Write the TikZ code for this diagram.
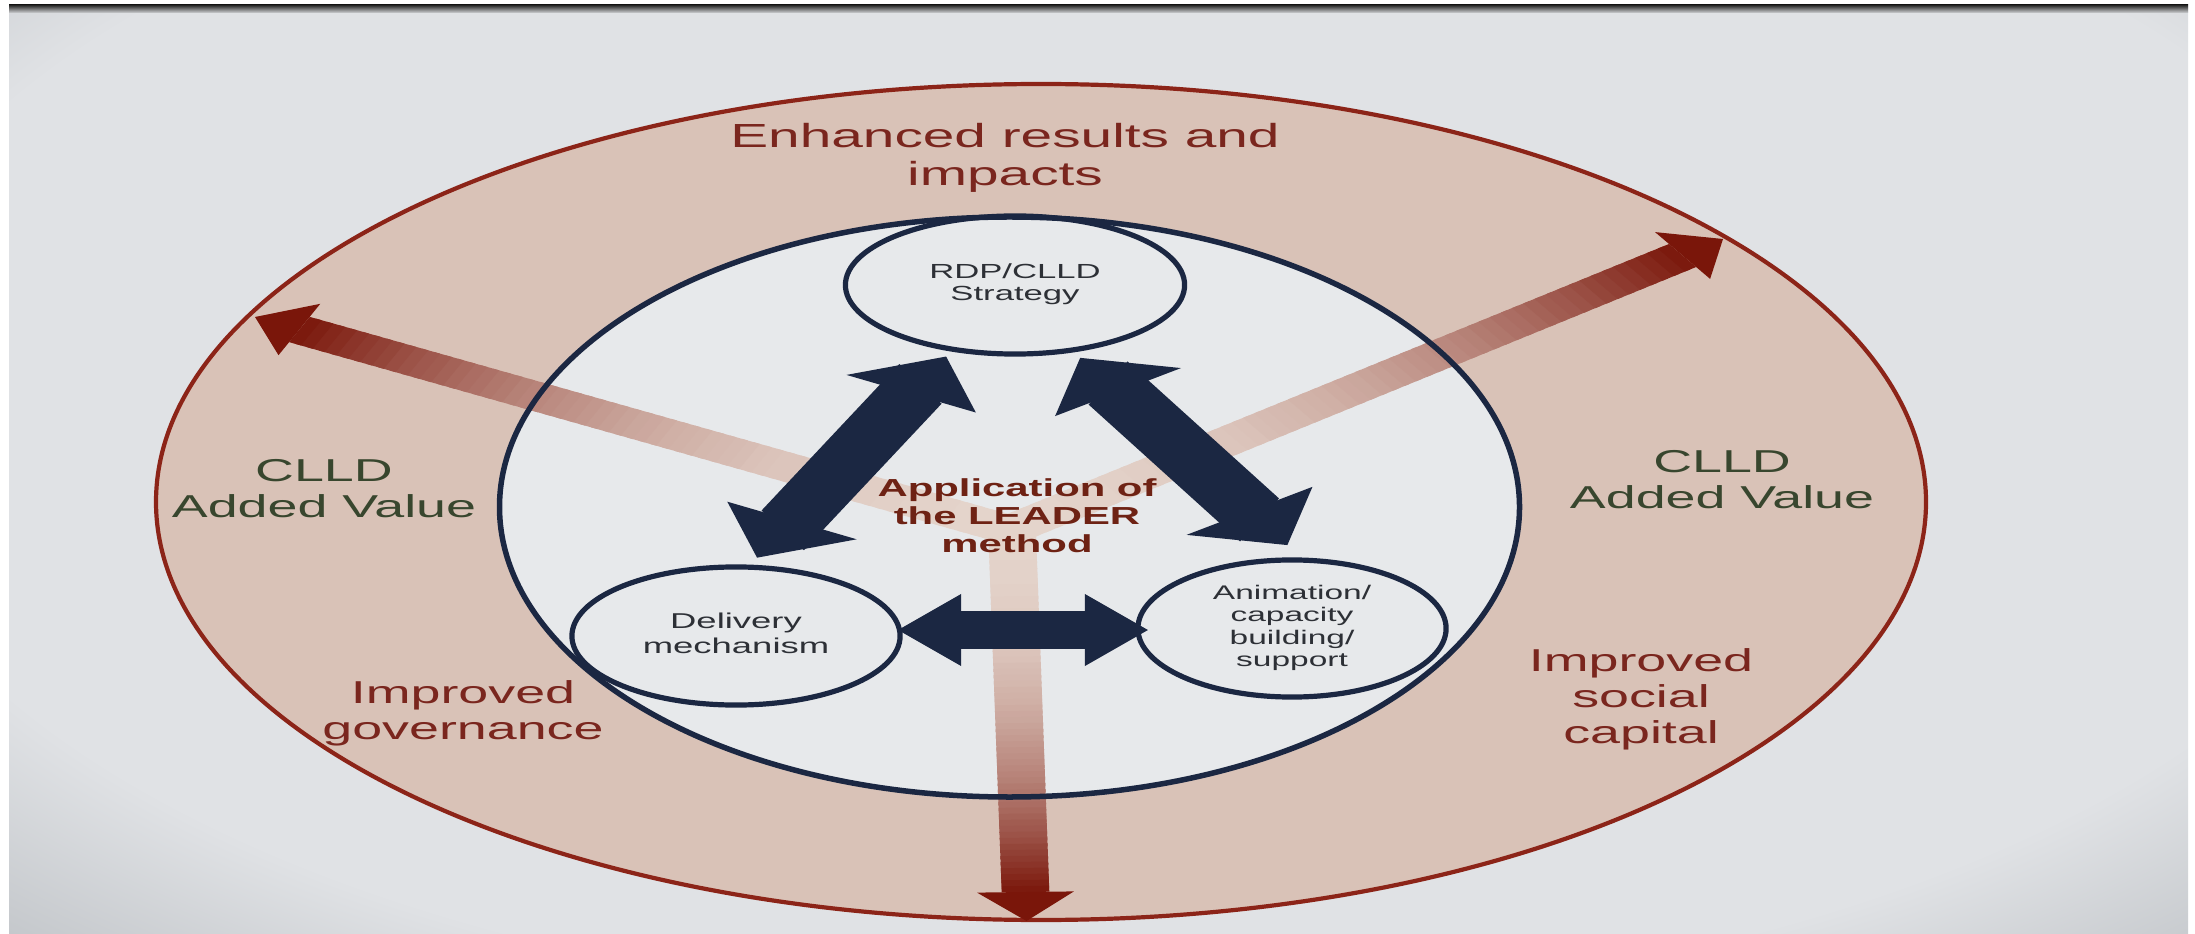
\documentclass[tikz,border=0pt]{standalone}
\usepackage{fontspec}
\setmainfont{Liberation Sans}
\usepackage{graphicx}
\usetikzlibrary{arrows.meta,calc,shapes.geometric}
\definecolor{navy}{RGB}{27,39,66}
\definecolor{ringfill}{RGB}{217,194,183}
\definecolor{ringline}{RGB}{140,36,24}
\definecolor{innerfill}{RGB}{231,233,235}
\definecolor{arrowdark}{RGB}{122,22,10}
\definecolor{arrowlight}{RGB}{228,212,203}
\definecolor{txtred}{RGB}{122,38,30}
\definecolor{appred}{RGB}{110,34,20}
\definecolor{txtgreen}{RGB}{56,70,46}
\definecolor{txtgray}{RGB}{45,48,54}
\definecolor{bglight}{RGB}{224,226,229}
\definecolor{bgdark}{RGB}{160,165,170}
\pgfdeclareradialshading{vign}{\pgfpoint{0bp}{0bp}}{color(0bp)=(bglight); color(16bp)=(bglight); color(25bp)=(bgdark); color(50bp)=(bgdark)}
\newcommand{\wtext}[1]{\scalebox{1.7}[1]{\begin{tabular}{@{}c@{}}#1\end{tabular}}}
\newcommand{\gradshaft}[4]{%
  \foreach \i in {0,...,59}{%
    \pgfmathsetmacro{\ta}{\i/60}%
    \pgfmathsetmacro{\tb}{min(1,(\i+1.5)/60)}%
    \pgfmathtruncatemacro{\pc}{round(100*pow((\i+0.5)/60,2.2))}%
    \fill[arrowdark!\pc!arrowlight] ($(#1)!\ta!(#3)$) -- ($(#1)!\tb!(#3)$) -- ($(#2)!\tb!(#4)$) -- ($(#2)!\ta!(#4)$) -- cycle;
  }}
\tikzset{
  dtipL/.tip={Triangle[width=1.2cm,length=0.51cm,line width=0pt,slant=-0.51]},
  dtipR/.tip={Triangle[width=1.2cm,length=0.51cm,line width=0pt,slant=0.51]},
  htip/.tip={Triangle[width=0.72cm,length=0.63cm,line width=0pt]},
}
\begin{document}
\begin{tikzpicture}[x=0.01cm, y=-0.01cm,
  smallell/.style={ellipse, draw=navy, line width=0.052cm, fill=innerfill, inner sep=0pt, outer sep=0pt, text=txtgray},
  lbl/.style={inner sep=0pt, outer sep=0pt},
  navyshaft/.style={draw=navy, line width=#1},
  navytips/.style={draw=navy, fill=navy, line width=0.2pt, arrows={#1}},
  ]
\useasboundingbox (0,0) rectangle (2195,934);
\fill[white] (0,0) rectangle (2195,934);
\begin{scope}
  \clip (9,5) rectangle (2188,934);
  \shade[shading=vign] (1130,400) ellipse [x radius=2000, y radius=950];
  \shade[top color=black!85, bottom color=bglight!85!gray] (9,5) rectangle (2188,13);
\end{scope}

% outer ring and inner area
\filldraw[fill=ringfill, draw=ringline, line width=0.042cm] (1041,502) ellipse [x radius=885, y radius=418];
\fill[innerfill] (1009.5,507) ellipse [x radius=510, y radius=290];

% red gradient arrows
\coordinate (ulS1) at (1020.3,517.4); \coordinate (ulS2) at (999.7,542.6);
\coordinate (ulH1) at (309.8,316.9);  \coordinate (ulH2) at (289.0,342.1);
\coordinate (ulT) at (255,317); \coordinate (ulB1) at (320.3,303.8); \coordinate (ulB2) at (278.5,355.2);
\gradshaft{ulS1}{ulS2}{ulH1}{ulH2}
\fill[arrowdark] (ulB1) -- (ulT) -- (ulB2) -- cycle;

\coordinate (urS1) at (1023.6,541.5); \coordinate (urS2) at (996.4,518.5);
\coordinate (urH1) at (1696.1,267.0); \coordinate (urH2) at (1669,244.0);
\coordinate (urT) at (1723,239); \coordinate (urB1) at (1710.1,278.9); \coordinate (urB2) at (1655,232.1);
\gradshaft{urS1}{urS2}{urH1}{urH2}
\fill[arrowdark] (urB1) -- (urT) -- (urB2) -- cycle;

\coordinate (bS1) at (988.2,530.3); \coordinate (bS2) at (1035.8,529.7);
\coordinate (bH1) at (1001.7,892.3); \coordinate (bH2) at (1049.3,891.7);
\coordinate (bT) at (1026.5,921); \coordinate (bB1) at (977,892.6); \coordinate (bB2) at (1073.9,891.4);
\gradshaft{bS1}{bS2}{bH1}{bH2}
\fill[arrowdark] (bB1) -- (bT) -- (bB2) -- cycle;

% small ellipses
\node[smallell, minimum width=3.39cm, minimum height=1.38cm, font=\fontsize{5.8pt}{6.5pt}\selectfont] (rdp) at (1015,285) {\wtext{RDP/CLLD\\Strategy}};
\node[smallell, minimum width=3.28cm, minimum height=1.38cm, font=\fontsize{6.1pt}{7pt}\selectfont] (deliv) at (736,636) {\wtext{Delivery\\mechanism}};
\node[smallell, minimum width=3.08cm, minimum height=1.37cm, font=\fontsize{5.6pt}{6.4pt}\selectfont] (anim) at (1292,628.5) {\wtext{Animation/\\capacity\\building/\\support}};

% inner border
\draw[navy, line width=0.055cm] (1009.5,507) ellipse [x radius=510, y radius=290];

% navy double arrows
\draw[navyshaft=0.58cm, shorten <=0.505cm, shorten >=0.475cm] (deliv.80) -- (rdp.226);
\draw[navytips={dtipL-dtipL}, shorten <=0.13cm, shorten >=0.10cm] (deliv.80) -- (rdp.226);
\draw[navyshaft=0.58cm, shorten <=0.491cm, shorten >=0.60cm] (rdp.311) -- (anim.80);
\draw[navytips={dtipR-dtipR}, shorten <=0.116cm, shorten >=0.225cm] (rdp.311) -- (anim.80);
\draw[navyshaft=0.37cm, shorten <=0.43cm, shorten >=0.35cm] ($(deliv.east)+(0,-6)$) -- ($(deliv.east -| anim.west)+(0,-6)$);
\draw[navytips={htip-htip}, shorten <=-0.02cm, shorten >=-0.10cm] ($(deliv.east)+(0,-6)$) -- ($(deliv.east -| anim.west)+(0,-6)$);

% labels
\node[lbl, text=txtred, font=\fontsize{9.5pt}{10.6pt}\selectfont] (enh) at (1005,159) {\wtext{Enhanced results and\\impacts}};
\node[lbl, text=txtgreen, font=\fontsize{9pt}{10.3pt}\selectfont] (clldL) at (324,492) {\wtext{CLLD\\Added Value}};
\node[lbl, text=txtgreen, font=\fontsize{9pt}{10.3pt}\selectfont] (clldR) at (1722,483) {\wtext{CLLD\\Added Value}};
\node[lbl, text=txtred, font=\fontsize{9pt}{10.3pt}\selectfont] (gov) at (463,714) {\wtext{Improved\\governance}};
\node[lbl, text=txtred, font=\fontsize{9pt}{10.3pt}\selectfont] (soc) at (1641,700) {\wtext{Improved\\social\\capital}};
\node[lbl, text=appred, font=\bfseries\fontsize{7pt}{8pt}\selectfont] (app) at (1017,519) {\wtext{Application of\\the LEADER\\method}};
\end{tikzpicture}
\end{document}
